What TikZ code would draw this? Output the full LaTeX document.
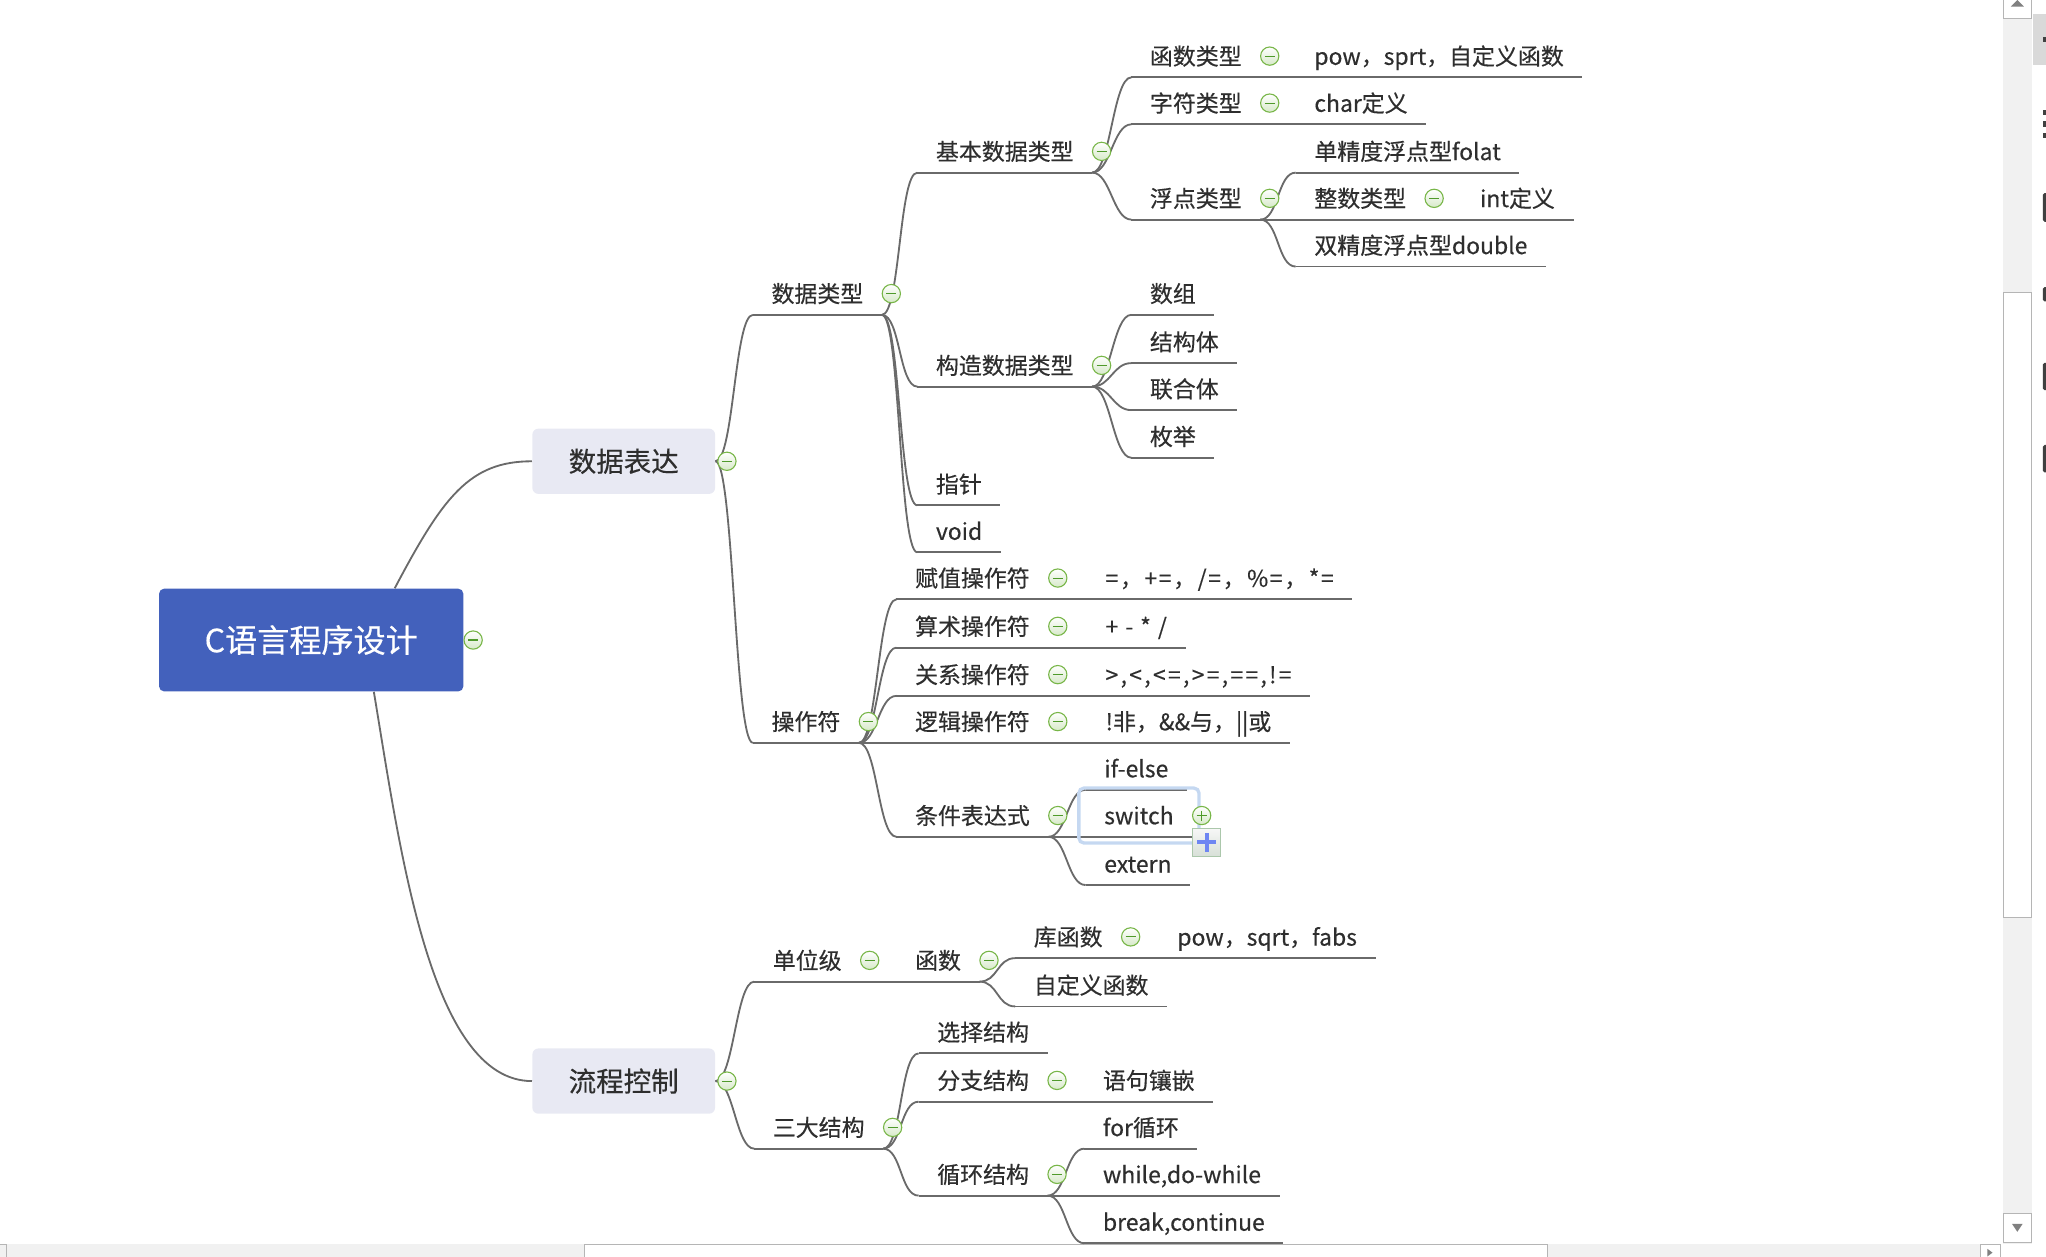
\documentclass[tikz,border=0pt]{standalone}
\usepackage{fontspec}
\usetikzlibrary{fit}
\newfontfamily\cjk[FakeBold=0.4]{Noto Sans CJK SC}
\definecolor{rootblue}{HTML}{4361BC}
\definecolor{boxgray}{HTML}{E8E9F3}
\definecolor{linec}{HTML}{6A6A6A}
\definecolor{txt}{HTML}{2E2E2E}
\definecolor{foldline}{HTML}{78B648}
\definecolor{foldbar}{HTML}{4F9A2B}
\definecolor{selblue}{HTML}{C5D8F1}
\definecolor{plusblue}{HTML}{6E86F2}
\definecolor{barbg}{HTML}{F1F1F1}
\definecolor{barline}{HTML}{B5B5B5}
\tikzset{
  foldminus/.pic={
    \draw[foldline, line width=0.6pt, top color=white, bottom color=foldline!30] (0,0) circle[radius=7];
    \draw[foldbar, line width=0.6pt] (-3.8,0) -- (3.8,0);
  },
  foldplus/.pic={
    \draw[foldline, line width=0.6pt, top color=white, bottom color=foldline!30] (0,0) circle[radius=7];
    \draw[foldbar, line width=0.6pt] (-3.8,0) -- (3.8,0) (0,-3.8) -- (0,3.8);
  }
}
\begin{document}
\begin{tikzpicture}[x=0.025cm, y=-0.025cm,
    topic/.style={anchor=west, inner xsep=0.35cm, inner ysep=0pt, minimum height=0.8cm,
      text height=11pt, text depth=1.5pt, text=txt, font=\cjk\fontsize{12.5}{15}\selectfont},
    mainbox/.style={rounded corners=0.115cm, fill=boxgray, minimum width=3.5cm, minimum height=1.25cm,
      text=txt, font=\cjk\fontsize{15}{18}\selectfont},
    rootbox/.style={rounded corners=0.1cm, fill=rootblue, minimum width=5.83cm, minimum height=1.97cm,
      text=white, font=\cjk\fontsize{17.5}{21}\selectfont},
    link/.style={draw=linec, line width=1pt, to path={.. controls +(14,0) and +(-14,0) .. (\tikztotarget)}},
    uline/.style={draw=linec, line width=1pt},
    selbox/.style={draw=selblue, line width=1.8pt, rounded corners=0.1cm, inner xsep=0.13cm, inner ysep=0.12cm},
    addbtn/.style={draw=green!20!gray!55, top color=gray!6, bottom color=green!12!gray!28, minimum size=0.54cm, inner sep=0pt}
  ]
  \useasboundingbox (0,0) rectangle (1568,963);

  % window scrollbars
  \fill[barbg] (1535,0) rectangle (1557,953);
  \draw[barline, fill=white] (1535,224) rectangle (1557,703);
  \draw[barline, fill=white] (1535,-2) rectangle (1557,14);
  \fill[gray] (1541,5) -- (1551,5) -- (1546,0) -- cycle;
  \draw[barline, fill=white] (1535,930) rectangle (1557,952);
  \fill[gray] (1542,938) -- (1550,938) -- (1546,944) -- cycle;
  \fill[gray!30] (1558,11) rectangle (1570,50);
  \fill[darkgray] (1565.5,28) rectangle (1570,32);
  \foreach \y in {86,95,104} \fill[darkgray] (1565.5,\y-2) rectangle (1570,\y+2);
  \foreach \a/\b in {148/170, 220/231, 278/299, 341/362}
    \fill[darkgray, rounded corners=1pt] (1565.5,\a) rectangle (1571,\b);
  \fill[barbg] (0,953.5) rectangle (1533,965);
  \draw[barline] (0,953.5) -- (5,953.5) -- (5,965);
  \draw[barline, fill=white] (447.7,953.5) rectangle (1185.6,966);
  \draw[barline, fill=white] (1518,953.5) rectangle (1533,966);
  \fill[gray] (1523,957) -- (1527,960) -- (1523,963) -- cycle;

  % central topic and main branches
  \node[rootbox] (root) at (238.5,490.5) {C语言程序设计};
  \node[mainbox] (sjbd) at (478,353.5) {数据表达};
  \node[mainbox] (lckz) at (478,828.5) {流程控制};

  % data types
  \node[topic] (sjlx) at (577,225) {数据类型};
  \node[topic] (jbsj) at (703,116) {基本数据类型};
  \node[topic] (gzsj) at (703,280) {构造数据类型};
  \node[topic] (zz) at (703,371) {指针};
  \node[topic] (void) at (703,407) {void};
  \node[topic] (hslx) at (867,43) {函数类型};
  \node[topic] (hsval) at (993,43) {pow，sprt，自定义函数};
  \node[topic] (zflx) at (867,79) {字符类型};
  \node[topic] (chardef) at (993,79) {char定义};
  \node[topic] (fdlx) at (867,152) {浮点类型};
  \node[topic] (dan) at (993,116) {单精度浮点型folat};
  \node[topic] (zslx) at (993,152) {整数类型};
  \node[topic] (intdef) at (1120,152) {int定义};
  \node[topic] (shuang) at (993,188) {双精度浮点型double};
  \node[topic] (sz) at (867,225) {数组};
  \node[topic] (jgt) at (867,262) {结构体};
  \node[topic] (lht) at (867,298) {联合体};
  \node[topic] (mj) at (867,334.5) {枚举};

  % operators
  \node[topic] (czf) at (577,553) {操作符};
  \node[topic] (fz) at (687,443) {赋值操作符};
  \node[topic] (fzval) at (833,443) {\addfontfeature{LetterSpace=7}=，+=，/=，\%=，*=};
  \node[topic] (ss) at (687,480) {算术操作符};
  \node[topic] (ssval) at (833,480) {\addfontfeature{LetterSpace=8}+ - * /};
  \node[topic] (gx) at (687,517) {关系操作符};
  \node[topic] (gxval) at (833,517) {\addfontfeature{LetterSpace=10}>,<,<=,>=,==,!=};
  \node[topic] (lj) at (687,553) {逻辑操作符};
  \node[topic] (ljval) at (833,553) {!非，\&\&与，||或};
  \node[topic] (tj) at (687,625) {条件表达式};
  \node[topic] (ifelse) at (832,589) {if-else};
  \node[topic] (switch) at (832,625) {switch};
  \node[topic] (extern) at (832,662) {extern};

  % control flow
  \node[topic] (dwj) at (578,736) {单位级};
  \node[topic] (hs) at (687,736) {函数};
  \node[topic] (khs) at (778,718) {库函数};
  \node[topic] (khsval) at (888,718) {pow，sqrt，fabs};
  \node[topic] (zdy) at (778,755) {自定义函数};
  \node[topic] (sdjg) at (578,864) {三大结构};
  \node[topic] (xzjg) at (704,791) {选择结构};
  \node[topic] (fzjg) at (704,828) {分支结构};
  \node[topic] (yjqq) at (831,828) {语句镶嵌};
  \node[topic] (xhjg) at (704,900) {循环结构};
  \node[topic] (forxh) at (831,864) {for循环};
  \node[topic] (while) at (831,900) {while,do-while};
  \node[topic] (brk) at (831,936.5) {break,continue};

  % underlines
  \foreach \n in {sjlx,jbsj,gzsj,zz,void,hslx,hsval,zflx,chardef,fdlx,dan,zslx,intdef,shuang,
      sz,jgt,lht,mj,czf,fz,fzval,ss,ssval,gx,gxval,lj,ljval,tj,ifelse,switch,extern,
      dwj,hs,khs,khsval,zdy,sdjg,xzjg,fzjg,yjqq,xhjg,forxh,while,brk}
    \draw[uline] (\n.south west) -- (\n.south east);

  % connectors
  \draw[uline] ([xshift=1.6cm]root.north) .. controls +(37,-70) and +(-48,0) .. (sjbd.west);
  \draw[uline] ([xshift=1.2cm]root.south) .. controls +(20,120) and +(-78,0) .. (lckz.west);
  \draw[link] (sjbd.east) to (sjlx.south west);
  \draw[link] (sjbd.east) to (czf.south west);
  \draw[link] (lckz.east) to (dwj.south west);
  \draw[link] (lckz.east) to (sdjg.south west);
  \foreach \a/\b in {sjlx/jbsj, sjlx/gzsj, sjlx/zz, sjlx/void,
      jbsj/hslx, jbsj/zflx, jbsj/fdlx, hslx/hsval, zflx/chardef,
      fdlx/dan, fdlx/zslx, fdlx/shuang, zslx/intdef,
      gzsj/sz, gzsj/jgt, gzsj/lht, gzsj/mj,
      czf/fz, czf/ss, czf/gx, czf/lj, czf/tj,
      fz/fzval, ss/ssval, gx/gxval, lj/ljval,
      tj/ifelse, tj/switch, tj/extern,
      dwj/hs, hs/khs, hs/zdy, khs/khsval,
      sdjg/xzjg, sdjg/fzjg, sdjg/xhjg, fzjg/yjqq,
      xhjg/forxh, xhjg/while, xhjg/brk}
    \draw[link] (\a.south east) to (\b.south west);

  % selected topic
  \node[selbox, fit=(switch)] (swsel) {};
  \node[addbtn] (addbtn) at (924.8,645.6) {};
  \draw[plusblue, line width=2.1pt] ([xshift=-0.185cm]addbtn.center) -- ([xshift=0.185cm]addbtn.center)
    ([yshift=-0.185cm]addbtn.center) -- ([yshift=0.185cm]addbtn.center);

  % fold icons
  \pic at ([xshift=0.18cm]root.east) {foldminus};
  \pic at ([xshift=0.22cm]sjbd.east) {foldminus};
  \pic at ([xshift=0.22cm]lckz.east) {foldminus};
  \foreach \n in {sjlx,jbsj,gzsj,hslx,zflx,fdlx,zslx,czf,fz,ss,gx,lj,tj,dwj,hs,khs,sdjg,fzjg,xhjg}
    \pic at ([xshift=0.18cm]\n.east) {foldminus};
  \pic at ([xshift=0.18cm]switch.east) {foldplus};
\end{tikzpicture}
\end{document}
